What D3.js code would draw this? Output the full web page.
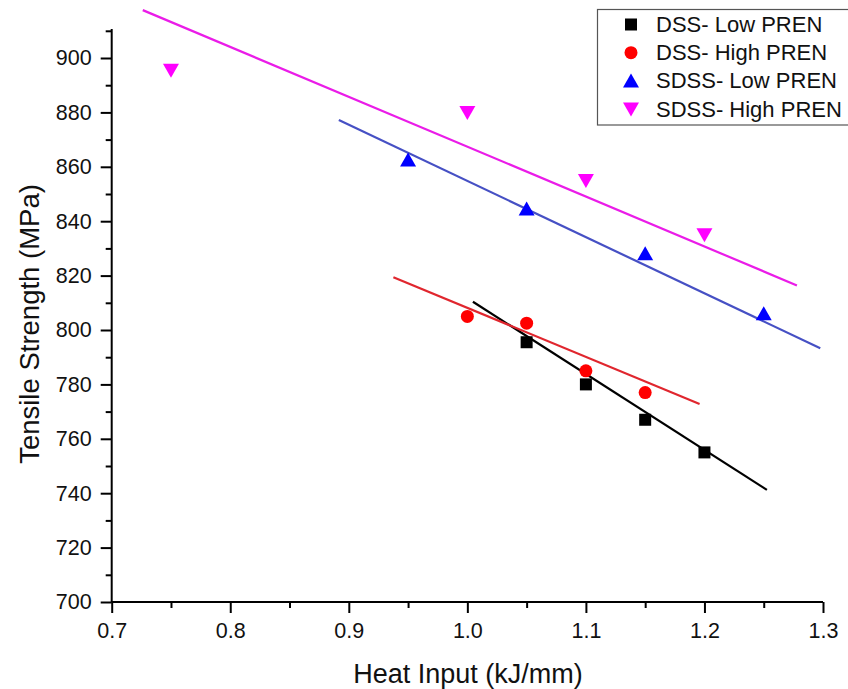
<!DOCTYPE html>
<html>
<head>
<meta charset="utf-8">
<script src="https://cdn.jsdelivr.net/npm/d3@7"></script>
<style>
  body { margin: 0; background: #fff; }
  svg { font-family: "Liberation Sans", Arial, sans-serif; }
</style>
</head>
<body>
<div id="chart"></div>
<script>
// series names
var seriesNames = ["DSS- Low PREN", "DSS- High PREN", "SDSS- Low PREN", "SDSS- High PREN"];

// heat input (kJ/mm) and tensile strength (MPa) per series
var dssLowX = [1.05, 1.10, 1.15, 1.20];
var dssLowY = [795.5, 780, 767, 755];
var dssHighX = [1.00, 1.05, 1.10, 1.15];
var dssHighY = [805, 802.5, 785, 777];
var sdssLowX = [0.95, 1.05, 1.15, 1.25];
var sdssLowY = [862.5, 844.5, 828, 806];
var sdssHighX = [0.75, 1.00, 1.10, 1.20];
var sdssHighY = [895.5, 880, 855, 835];

// fitted lines: [x0, y0, x1, y1]
var fitDssLow = [1.0047, 810.4, 1.2527, 741.2];
var fitDssHigh = [0.9376, 819.4, 1.1959, 772.8];
var fitSdssLow = [0.8916, 877.2, 1.2977, 793.3];
var fitSdssHigh = [0.7262, 917.6, 1.278, 816.4];

var xTicks = [0.7, 0.8, 0.9, 1.0, 1.1, 1.2, 1.3];
var yTicks = [700, 720, 740, 760, 780, 800, 820, 840, 860, 880, 900];

var width = 848, height = 689;

var svg = d3.select("#chart").append("svg")
    .attr("width", width)
    .attr("height", height);

var x = d3.scaleLinear().domain([0.7, 1.3]).range([111.7, 823]);
var y = d3.scaleLinear().domain([700, 900]).range([602, 58]);
var yTop = 910.7;

//Axes
var xAxis = d3.axisBottom(x).tickValues(xTicks).tickFormat(d3.format(".1f")).tickSize(11).tickPadding(10);
var xMinor = d3.axisBottom(x).tickValues(d3.range(0.75, 1.3, 0.1)).tickFormat("").tickSize(6);
var yAxis = d3.axisLeft(y).tickValues(yTicks).tickFormat(d3.format("d")).tickSize(11).tickPadding(9);
var yMinor = d3.axisLeft(y).tickValues(d3.range(710, 911, 20)).tickFormat("").tickSize(6);

svg.append("g").attr("transform", "translate(0,602)").call(xAxis);
svg.append("g").attr("transform", "translate(0,602)").call(xMinor);
svg.append("g").attr("transform", "translate(111.7,0)").call(yAxis);
svg.append("g").attr("transform", "translate(111.7,0)").call(yMinor);

svg.selectAll(".domain").remove();
svg.append("line")
    .attr("x1", x(0.7)).attr("x2", x(1.3))
    .attr("y1", 602).attr("y2", 602)
    .attr("stroke", "#000").attr("stroke-width", 2);
svg.append("line")
    .attr("x1", 111.7).attr("x2", 111.7)
    .attr("y1", y(yTop)).attr("y2", 602)
    .attr("stroke", "#000").attr("stroke-width", 2);

svg.selectAll(".tick line").attr("stroke", "#000").attr("stroke-width", 2);
svg.selectAll(".tick text").attr("fill", "#111").style("font-size", "21.5px").style("font-family", "Liberation Sans, Arial, sans-serif");

// axis titles
svg.append("text")
    .attr("x", 468).attr("y", 683)
    .attr("text-anchor", "middle")
    .style("font-size", "27px")
    .attr("fill", "#111")
    .text("Heat Input (kJ/mm)");
svg.append("text")
    .attr("transform", "translate(39,324) rotate(-90)")
    .attr("text-anchor", "middle")
    .style("font-size", "27.5px")
    .attr("fill", "#111")
    .text("Tensile Strength (MPa)");

// fit lines
var fits = [
    { f: fitDssLow, color: "#000000" },
    { f: fitDssHigh, color: "#e0262e" },
    { f: fitSdssLow, color: "#4650c4" },
    { f: fitSdssHigh, color: "#ea1ce8" }
];
svg.selectAll(null)
    .data(fits)
    .enter()
    .append("line")
    .attr("x1", function (d) { return x(d.f[0]); })
    .attr("y1", function (d) { return y(d.f[1]); })
    .attr("x2", function (d) { return x(d.f[2]); })
    .attr("y2", function (d) { return y(d.f[3]); })
    .attr("stroke", function (d) { return d.color; })
    .attr("stroke-width", 2.2);

// markers
var series = [
    { xs: dssLowX, ys: dssLowY, color: "#000000", shape: "square" },
    { xs: dssHighX, ys: dssHighY, color: "#ff0000", shape: "circle" },
    { xs: sdssLowX, ys: sdssLowY, color: "#0000ff", shape: "up" },
    { xs: sdssHighX, ys: sdssHighY, color: "#ff00ff", shape: "down" }
];

function drawMarker(g, shape, cx, cy, color) {
    if (shape == "square") {
        g.append("rect").attr("x", cx - 6).attr("y", cy - 6).attr("width", 12).attr("height", 12).attr("fill", color);
    } else if (shape == "circle") {
        g.append("circle").attr("cx", cx).attr("cy", cy).attr("r", 6.5).attr("fill", color);
    } else if (shape == "up") {
        g.append("path").attr("d", "M" + cx + "," + (cy - 7.5) + "L" + (cx + 8) + "," + (cy + 6.5) + "L" + (cx - 8) + "," + (cy + 6.5) + "Z").attr("fill", color);
    } else {
        g.append("path").attr("d", "M" + cx + "," + (cy + 7.5) + "L" + (cx + 8) + "," + (cy - 6.5) + "L" + (cx - 8) + "," + (cy - 6.5) + "Z").attr("fill", color);
    }
}

var gm = svg.append("g");
series.forEach(function (s) {
    s.xs.forEach(function (v, i) {
        drawMarker(gm, s.shape, x(v), y(s.ys[i]), s.color);
    });
});

// legend
var leg = svg.append("g");
leg.append("rect")
    .attr("x", 597.5).attr("y", 9.5)
    .attr("width", 260).attr("height", 115.5)
    .attr("fill", "#fff")
    .attr("stroke", "#555").attr("stroke-width", 1.2);
series.forEach(function (s, i) {
    var ry = 24.5 + i * 28.2;
    drawMarker(leg, s.shape, 631, ry, s.color);
    leg.append("text")
        .attr("x", 656).attr("y", ry + 7.5)
        .style("font-size", "22px")
        .attr("fill", "#111")
        .text(seriesNames[i]);
});
</script>
</body>
</html>
